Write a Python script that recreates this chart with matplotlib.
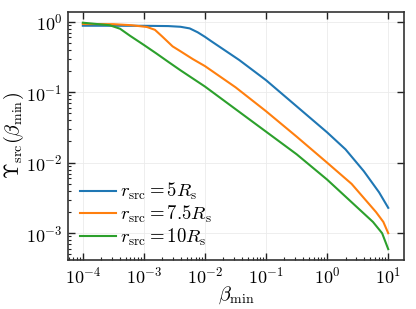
import numpy as np
import matplotlib
matplotlib.use('Agg')
import matplotlib.pyplot as plt
from matplotlib.ticker import LogLocator

plt.rcParams['mathtext.fontset'] = 'cm'
plt.rcParams['font.family'] = 'serif'
plt.rcParams['font.serif'] = ['cmr10', 'DejaVu Serif']
plt.rcParams['axes.formatter.use_mathtext'] = True

# log10(beta_min), log10(Upsilon)
b5 = [-4.0, -3.0, -2.6, -2.4, -2.25, -2.12, -2.0, -1.9, -1.44, -1.0, -0.5, 0.0, 0.3, 0.6, 0.85, 1.0]
u5 = [-0.057, -0.058, -0.062, -0.072, -0.095, -0.15, -0.215, -0.275, -0.543, -0.83, -1.2, -1.57,
      -1.81, -2.12, -2.42, -2.64]

b75 = [-4.0, -3.5, -3.2, -2.95, -2.82, -2.7, -2.53, -2.4, -2.2, -2.0, -1.5, -1.0, -0.5, 0.0, 0.4,
       0.65, 0.8, 0.92, 1.0]
u75 = [-0.033, -0.035, -0.05, -0.075, -0.115, -0.21, -0.35, -0.42, -0.53, -0.63, -0.93, -1.27,
       -1.63, -2.0, -2.3, -2.55, -2.7, -2.84, -3.0]

b10 = [-4.0, -3.56, -3.39, -3.23, -3.0, -2.8, -2.6, -2.4, -2.0, -1.5, -1.0, -0.5, 0.0, 0.4,
       0.75, 0.9, 1.0]
u10 = [-0.014, -0.05, -0.10, -0.198, -0.33, -0.448, -0.57, -0.69, -0.92, -1.24, -1.56, -1.88,
       -2.24, -2.56, -2.84, -3.0, -3.226]

labels = [r'$r_{\rm src}=5R_{\rm s}$', r'$r_{\rm src}=7.5R_{\rm s}$', r'$r_{\rm src}=10R_{\rm s}$']

fig = plt.figure(figsize=(4.16, 3.09), dpi=100)
ax = fig.add_axes([0.163, 0.159, 0.808, 0.802])

for b, u, lab, c in zip([b5, b75, b10], [u5, u75, u10], labels, ['C0', 'C1', 'C2']):
    ax.plot(10 ** np.array(b), 10 ** np.array(u), color=c, lw=1.5, label=lab)

ax.set_xscale('log')
ax.set_yscale('log')
ax.set_xlim(10 ** -4.246, 10 ** 1.257)
ax.set_ylim(10 ** -3.378, 10 ** 0.137)
for axis in [ax.xaxis, ax.yaxis]:
    axis.set_major_locator(LogLocator(base=10, numticks=20))
    axis.set_minor_locator(LogLocator(base=10, subs=np.arange(2, 10), numticks=20))

ax.grid(True, which='major', color='#ebebeb', lw=0.6)
ax.set_axisbelow(True)
for s in ax.spines.values():
    s.set_color('#333333')
    s.set_linewidth(1.2)

ax.tick_params(which='major', direction='in', length=5, width=1.0, top=True, right=True,
               labelsize=13, color='#222222', pad=4)
ax.tick_params(which='minor', direction='in', length=2.5, width=0.8, top=False, right=False,
               color='#222222')

ax.set_xlabel(r'$\beta_{\min}$', fontsize=14.5, labelpad=-1)
ax.set_ylabel(r'$\Upsilon_{\rm src}(\beta_{\min})$', fontsize=14.5, labelpad=0)

ax.legend(loc='lower left', frameon=False, fontsize=13.5, handlelength=1.9,
          handletextpad=0.25, labelspacing=0.08, borderaxespad=0.25, borderpad=0.4)

fig.savefig('out.png', dpi=100)
